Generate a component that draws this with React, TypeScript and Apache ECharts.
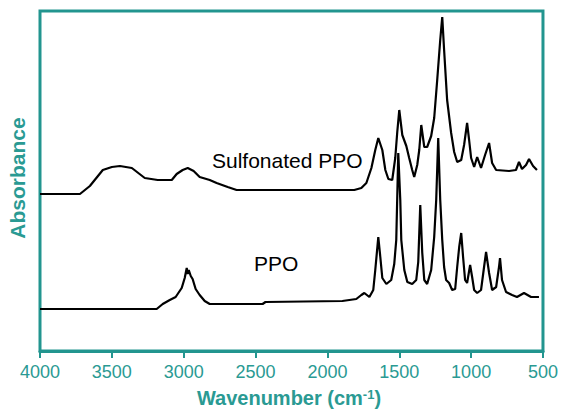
import React, { useEffect, useRef } from "react";
import * as echarts from "echarts";

// Wavenumber (cm-1) positions and absorbance (arbitrary offset units)
const sulfonatedWn = [4000, 3722, 3653, 3563, 3500, 3444, 3361, 3271, 3181, 3083, 3049, 3007, 2972, 2931, 2889, 2819, 2771, 2694, 2632, 1813, 1764, 1729, 1694, 1667, 1646, 1618, 1597, 1576, 1549, 1528, 1514, 1500, 1479, 1451, 1431, 1410, 1396, 1375, 1361, 1347, 1326, 1306, 1278, 1257, 1236, 1215, 1201, 1188, 1167, 1139, 1118, 1097, 1069, 1049, 1028, 1014, 1000, 979, 958, 931, 903, 875, 854, 826, 736, 688, 667, 646, 618, 597, 569, 542];
const sulfonatedAbs = [157, 157, 165, 181, 184, 185, 183, 173, 171, 171, 177, 181, 183, 180, 174, 171, 168, 164, 161, 161, 163, 168, 183, 201, 213, 201, 181, 172, 171, 193, 219, 241, 216, 205, 193, 181, 174, 186, 201, 226, 204, 204, 215, 233, 271, 311, 334, 301, 251, 218, 199, 189, 191, 206, 228, 211, 193, 184, 194, 183, 196, 208, 188, 181, 180, 181, 189, 182, 186, 192, 185, 181];

const ppoWn = [4000, 3188, 3146, 3097, 3056, 3014, 2993, 2979, 2972, 2965, 2951, 2938, 2917, 2889, 2854, 2819, 2451, 2431, 1896, 1799, 1764, 1743, 1708, 1681, 1667, 1646, 1632, 1618, 1590, 1556, 1535, 1521, 1507, 1493, 1486, 1465, 1444, 1410, 1382, 1368, 1354, 1340, 1326, 1306, 1278, 1257, 1243, 1229, 1215, 1201, 1188, 1174, 1153, 1132, 1111, 1097, 1083, 1069, 1056, 1042, 1028, 1007, 993, 979, 958, 931, 910, 896, 875, 854, 826, 806, 799, 785, 757, 715, 681, 632, 583, 528];
const ppoAbs = [42, 42, 47, 51, 54, 63, 73, 83, 77, 81, 75, 72, 62, 56, 50, 47, 47, 49, 50, 52, 56, 58, 54, 61, 81, 114, 94, 73, 67, 71, 87, 111, 198, 151, 111, 81, 69, 67, 71, 89, 146, 98, 71, 67, 81, 114, 151, 213, 151, 111, 84, 71, 68, 61, 62, 84, 104, 118, 94, 71, 68, 86, 74, 61, 58, 61, 84, 99, 78, 61, 64, 84, 93, 71, 59, 56, 54, 58, 54, 54];

const xTicks = [4000, 3500, 3000, 2500, 2000, 1500, 1000, 500];
const seriesNames = ["Sulfonated PPO", "PPO"];

const TEAL = "#22958f";
const TEXT_TEAL = "#2a9a93";
const FONT = "Liberation Sans, Arial, sans-serif";

export default function App() {
  const ref = useRef<HTMLDivElement>(null);
  useEffect(() => {
    if (!ref.current) return;
    const chart = echarts.init(ref.current, undefined, { renderer: "svg" });
    const pairs = (xs: number[], ys: number[]) => xs.map((x, i) => [x, ys[i]]);
    chart.setOption({
      animation: false,
      backgroundColor: "#ffffff",
      grid: {
        left: 40,
        right: 17,
        top: 11,
        bottom: 59,
        show: true,
        borderColor: TEAL,
        borderWidth: 3,
      },
      xAxis: {
        type: "value",
        min: xTicks[xTicks.length - 1],
        max: xTicks[0],
        interval: 500,
        inverse: true,
        splitLine: { show: false },
        axisLine: { show: true, lineStyle: { color: TEAL, width: 3 } },
        axisTick: { show: true, inside: false, length: 7, lineStyle: { color: TEAL, width: 2 } },
        axisLabel: {
          color: TEXT_TEAL,
          fontSize: 18,
          margin: 12,
          fontFamily: FONT,
          showMinLabel: true,
          showMaxLabel: true,
          formatter: (v: number) => String(v),
        },
      },
      yAxis: {
        type: "value",
        min: 0,
        max: 340,
        show: false,
      },
      series: [
        {
          name: seriesNames[0],
          type: "line",
          showSymbol: false,
          data: pairs(sulfonatedWn, sulfonatedAbs),
          lineStyle: { color: "#000000", width: 2.2 },
        },
        {
          name: seriesNames[1],
          type: "line",
          showSymbol: false,
          data: pairs(ppoWn, ppoAbs),
          lineStyle: { color: "#000000", width: 2.2 },
        },
      ],
      graphic: [
        {
          type: "text",
          x: 212,
          y: 160,
          style: {
            text: seriesNames[0],
            fill: "#000000",
            fontSize: 21,
            fontFamily: FONT,
            textVerticalAlign: "middle",
          },
        },
        {
          type: "text",
          x: 254,
          y: 263,
          style: {
            text: seriesNames[1],
            fill: "#000000",
            fontSize: 21,
            fontFamily: FONT,
            textVerticalAlign: "middle",
          },
        },
        {
          type: "text",
          x: 289,
          y: 398,
          style: {
            text: "{a|Wavenumber (cm}{s|-1}{a|)}",
            textAlign: "center",
            textVerticalAlign: "middle",
            rich: {
              a: {
                fontSize: 20,
                fontWeight: "bold",
                fill: TEXT_TEAL,
                fontFamily: FONT,
              },
              s: {
                fontSize: 13,
                fontWeight: "bold",
                fill: TEXT_TEAL,
                verticalAlign: "top",
                fontFamily: FONT,
              },
            },
          },
        },
        {
          type: "text",
          x: 17,
          y: 178,
          rotation: Math.PI / 2,
          style: {
            text: "Absorbance",
            fill: TEXT_TEAL,
            fontSize: 21,
            fontWeight: "bold",
            fontFamily: FONT,
            textAlign: "center",
            textVerticalAlign: "middle",
          },
        },
      ],
    });
    return () => chart.dispose();
  }, []);
  return <div ref={ref} style={{ width: 561, height: 410, position: "absolute", left: 0, top: 0 }} />;
}
